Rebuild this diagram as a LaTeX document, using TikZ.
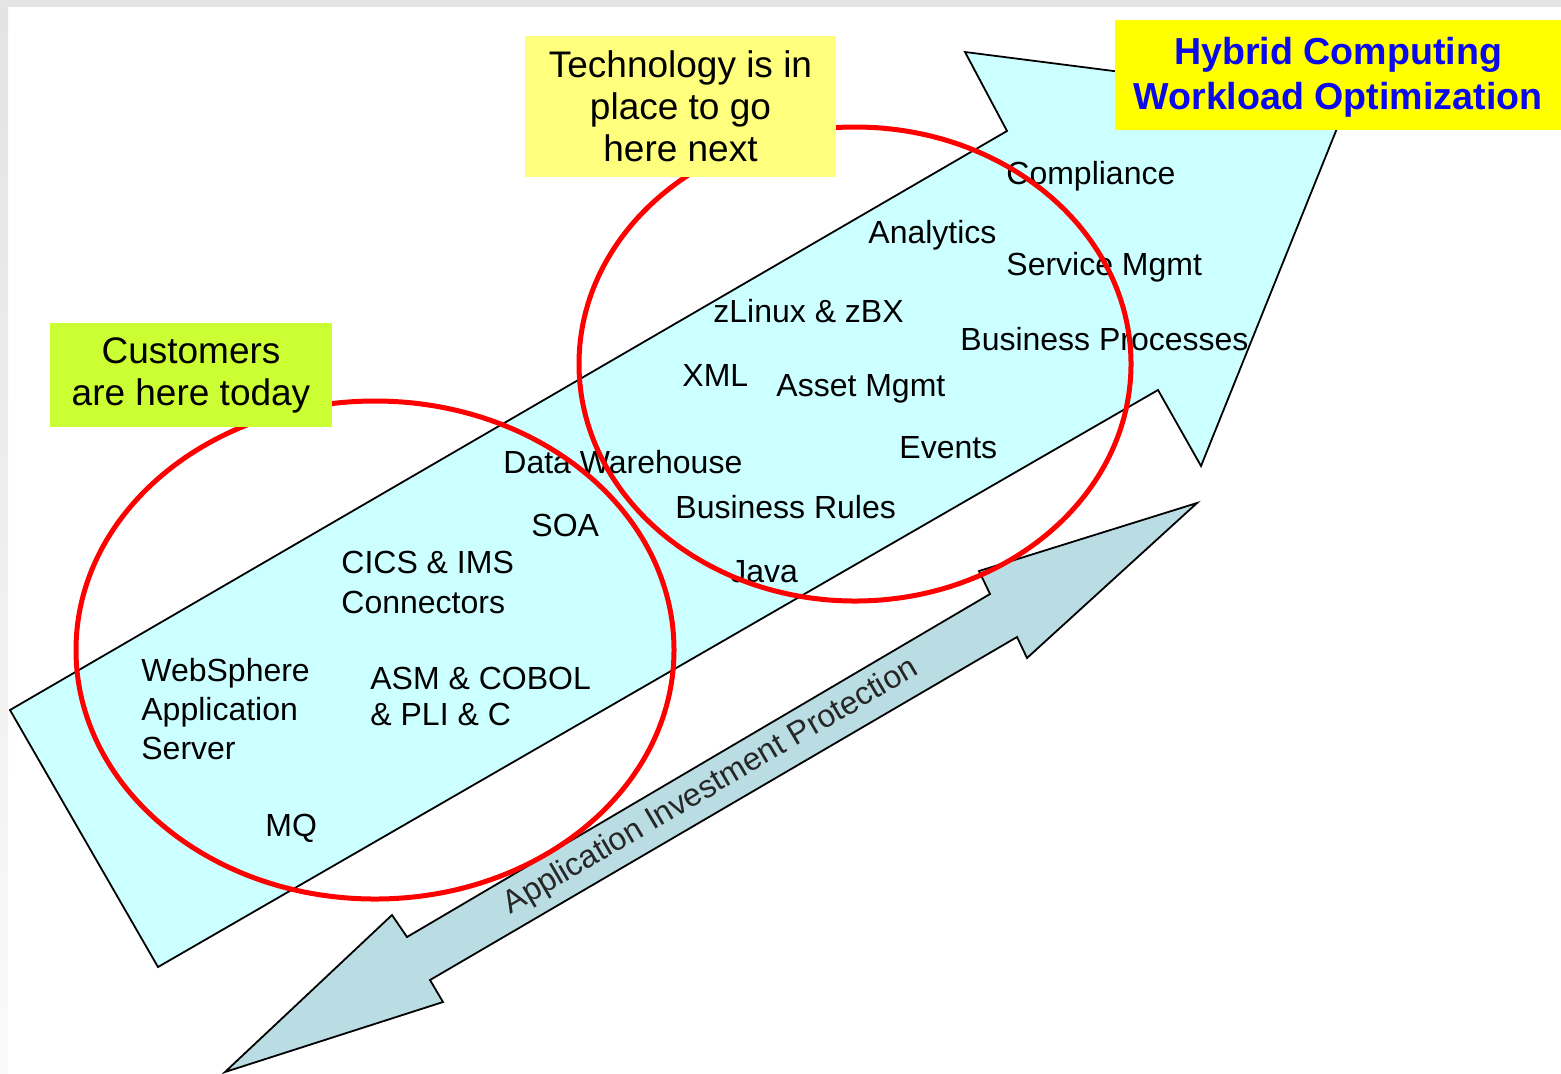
\documentclass[tikz,border=0pt]{standalone}
\usepackage{fontspec}
\setmainfont{Liberation Sans}
\usetikzlibrary{positioning}
\definecolor{shaftcyan}{RGB}{204,255,255}
\definecolor{protblue}{RGB}{185,221,226}
\definecolor{notelemon}{RGB}{255,255,125}
\definecolor{notelime}{RGB}{204,255,51}
\definecolor{notegold}{RGB}{255,255,0}
\definecolor{headblue}{RGB}{10,10,235}
\tikzset{>=stealth}
\tikzstyle{outline}=[draw=black,line width=0.9pt,line join=miter]
\tikzstyle{item}=[
  inner sep=0pt,
  anchor=base west,
  align=left,
  font=\fontsize{16}{19.5}\selectfont
]
\tikzstyle{ring}=[draw=red,line width=2.5pt]
\tikzstyle{note}=[inner sep=0pt,align=center,font=\fontsize{18.5}{21}\selectfont]

\begin{document}
\begin{tikzpicture}[x=0.5pt,y=-0.5pt]
  \useasboundingbox (0,0) rectangle (1561,1073);
  \fill[gray!20] (0,0) rectangle (1561,7);
  \shade[top color=gray!22,bottom color=gray!4] (0,7) rectangle (8,1073);

  % big arrow and the two-headed one
  \filldraw[outline,fill=shaftcyan] (10,710) -- (1007,131) -- (965,52) -- (1348,101)
    -- (1201,466) -- (1158,390) -- (158,967) -- cycle;
  \filldraw[outline,fill=protblue] (225,1072) -- (443,1002) -- (430,980) -- (1017,637)
    -- (1027,658) -- (1197,503) -- (979,571) -- (990,594) -- (407,937) -- (392,915) -- cycle;
  \node[rotate=30.5,inner sep=0pt,text=black!85,font=\fontsize{16}{19}\selectfont]
    (protect) at (711,787) {Application Investment Protection};

  % multi-line items sit on their last baseline
  \node[item] (websphere) at (141,759) {WebSphere\\Application\\Server};
  \node[item] (mq) at (265,836) {MQ};
  \node[item,font=\fontsize{16}{18}\selectfont] (asm) at (370,725) {ASM \& COBOL\\\& PLI \& C};
  \node[item,font=\fontsize{16}{20}\selectfont] (cics) at (341,613) {CICS \& IMS\\Connectors};
  \node[item] (soa) at (531,536) {SOA};
  \node[item] (datawh) at (503,473) {Data Warehouse};
  \node[item] (java) at (730,582) {Java};
  \node[item] (bizrules) at (675,518) {Business Rules};
  \node[item] (events) at (899,458) {Events};
  \node[item] (xml) at (682,386) {XML};
  \node[item] (assetmgmt) at (776,396) {Asset Mgmt};
  \node[item] (zlinux) at (713,322) {zLinux \& zBX};
  \node[item] (bizproc) at (960,350) {Business Processes};
  \node[item] (analytics) at (868,243) {Analytics};
  \node[item] (servicemgmt) at (1006,275) {Service Mgmt};
  \node[item] (compliance) at (1006,184) {Compliance};

  \draw[ring] (375,650) ellipse [x radius=299,y radius=249];
  \draw[ring] (855,364) ellipse [x radius=276,y radius=237];

  \node[note,fill=notelime,minimum width=141pt,minimum height=52pt] (today) at (191,375)
    {Customers\\are here today};
  \node[note,fill=notelemon,minimum width=155.5pt,minimum height=70.5pt] (next) at (680.5,106.5)
    {Technology is in\\place to go\\here next};
  \node[note,fill=notegold,text=headblue,minimum width=223pt,minimum height=55pt,
    font=\fontsize{18.8}{22.5}\selectfont\bfseries] (hybrid) at (1338,75)
    {\strut Hybrid Computing\\Workload Optimization};
\end{tikzpicture}
\end{document}
